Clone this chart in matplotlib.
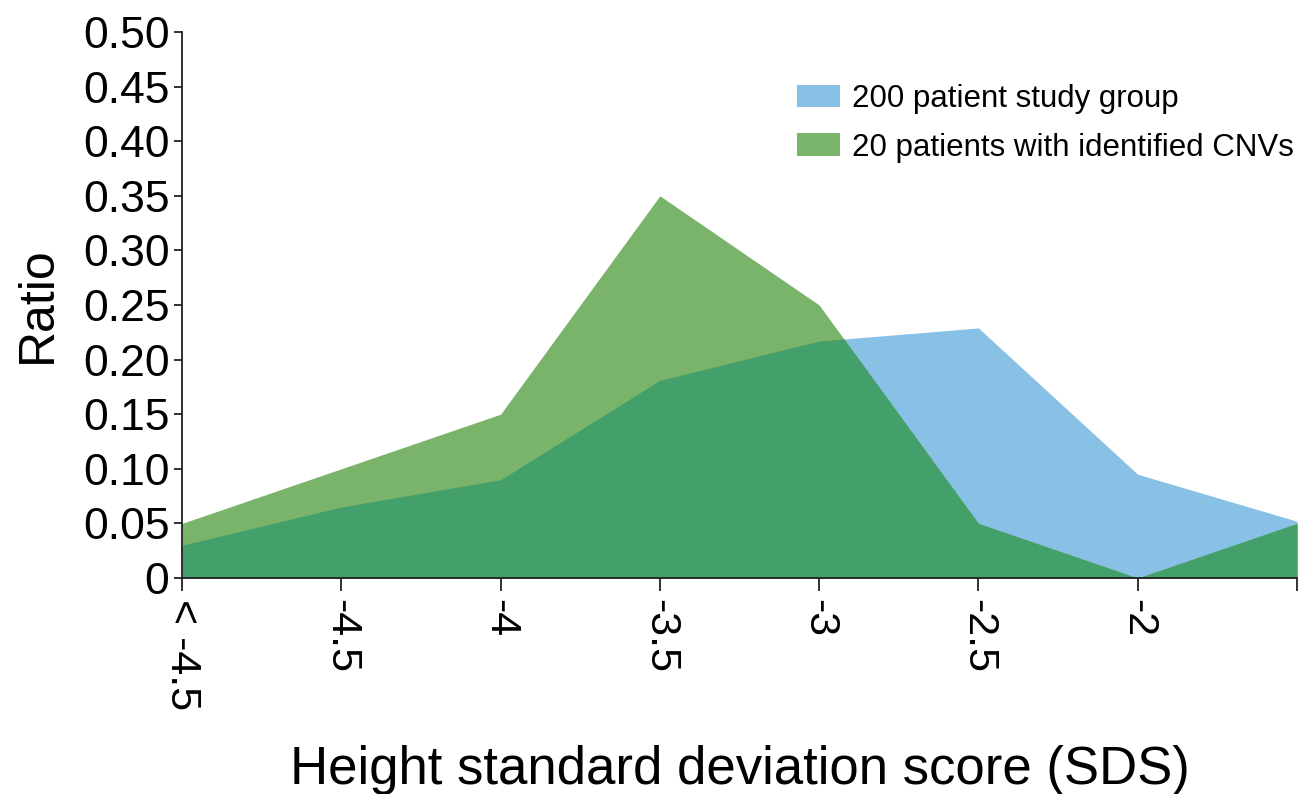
import numpy as np
import matplotlib
matplotlib.use('Agg')
import matplotlib.pyplot as plt

plt.rcParams['font.family'] = ['Liberation Sans', 'DejaVu Sans']

# SDS bins (last bin has no label)
sds_labels = ['< -4.5', '-4.5', '-4', '-3.5', '-3', '-2.5', '-2', '']
study_group = [0.030, 0.065, 0.090, 0.181, 0.217, 0.229, 0.095, 0.052]
cnv_group = [0.050, 0.100, 0.150, 0.350, 0.250, 0.050, 0.000, 0.050]

blue = '#89c1e6'
green = '#7ab36a'
overlap = '#43a06a'

x = np.arange(len(sds_labels), dtype=float)
b = np.array(study_group)
g = np.array(cnv_group)

# lower envelope of the two areas, with the crossing points added
ox, oy = [x[0]], [min(b[0], g[0])]
for i in range(len(x) - 1):
    d0, d1 = b[i] - g[i], b[i + 1] - g[i + 1]
    if d0 * d1 < 0:
        t = d0 / (d0 - d1)
        ox.append(x[i] + t)
        oy.append(b[i] + t * (b[i + 1] - b[i]))
    ox.append(x[i + 1])
    oy.append(min(b[i + 1], g[i + 1]))

fig = plt.figure(figsize=(13.09, 7.94), dpi=100)
ax = fig.add_axes([182 / 1309, 1 - 578 / 794, 1115 / 1309, 546 / 794])

ax.fill_between(x, 0, b, color=blue, lw=0, label='200 patient study group')
ax.fill_between(x, 0, g, color=green, lw=0, label='20 patients with identified CNVs')
ax.fill_between(ox, 0, oy, color=overlap, lw=0)

ax.set_xlim(0, len(sds_labels) - 1)
ax.set_ylim(0, 0.5)
ax.set_xticks(x)
ax.set_xticklabels(sds_labels, rotation=-90, va='top', ha='center', fontsize=31)
yt = np.arange(0, 0.501, 0.05)
ax.set_yticks(yt)
ax.set_yticklabels(['0'] + ['%.2f' % v for v in yt[1:]], fontsize=32)

for s in ['top', 'right']:
    ax.spines[s].set_visible(False)
for s in ['left', 'bottom']:
    ax.spines[s].set_linewidth(1.3)
    ax.spines[s].set_color('#222222')
ax.tick_params(axis='x', direction='out', length=9, width=1.3, pad=6, colors='#222222')
ax.tick_params(axis='y', direction='out', length=6, width=1.3, pad=3, colors='#222222')
for lab in ax.get_xticklabels() + ax.get_yticklabels():
    lab.set_color('black')

ax.set_ylabel('Ratio', fontsize=36, labelpad=16)
ax.set_xlabel('Height standard deviation score (SDS)', fontsize=38, labelpad=25)

ax.legend(loc='upper left', bbox_to_anchor=(0.552, 0.905), frameon=False, fontsize=22.5,
          borderpad=0, borderaxespad=0, handlelength=1.36, handleheight=0.75,
          handletextpad=0.4, labelspacing=0.6)

fig.savefig('out.png', dpi=100)
